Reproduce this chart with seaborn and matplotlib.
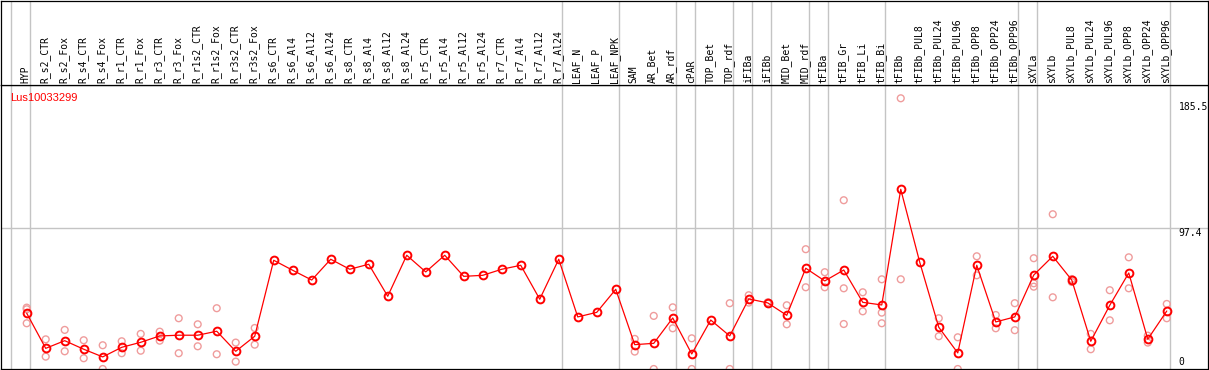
import matplotlib
matplotlib.use("Agg")
from matplotlib import pyplot as plt
import numpy as np
import pandas as pd
import seaborn as sb

# sample names in the order they appear along the x axis
samples = ["HYP", "R_s2_CTR", "R_s2_Fox", "R_s4_CTR", "R_s4_Fox", "R_r1_CTR", "R_r1_Fox",
           "R_r3_CTR", "R_r3_Fox", "R_r1s2_CTR", "R_r1s2_Fox", "R_r3s2_CTR", "R_r3s2_Fox",
           "R_s6_CTR", "R_s6_Al4", "R_s6_Al12", "R_s6_Al24", "R_s8_CTR", "R_s8_Al4",
           "R_s8_Al12", "R_s8_Al24", "R_r5_CTR", "R_r5_Al4", "R_r5_Al12", "R_r5_Al24",
           "R_r7_CTR", "R_r7_Al4", "R_r7_Al12", "R_r7_Al24", "LEAF_N", "LEAF_P", "LEAF_NPK",
           "SAM", "AR_Bet", "AR_rdf", "cPAR", "TOP_Bet", "TOP_rdf", "iFIBa", "iFIBb",
           "MID_Bet", "MID_rdf", "tFIBa", "tFIB_Gr", "tFIB_Li", "tFIB_Bi", "tFIBb",
           "tFIBb_PUL8", "tFIBb_PUL24", "tFIBb_PUL96", "tFIBb_OPP8", "tFIBb_OPP24",
           "tFIBb_OPP96", "sXYLa", "sXYLb", "sXYLb_PUL8", "sXYLb_PUL24", "sXYLb_PUL96",
           "sXYLb_OPP8", "sXYLb_OPP24", "sXYLb_OPP96"]

# mean expression per sample
means = [39.8, 16.0, 21.2, 15.4, 10.2, 16.7, 20.1, 24.4, 24.9, 24.9, 27.6, 14.0, 24.2,
         75.7, 68.9, 62.3, 76.4, 69.6, 73.0, 51.3, 79.1, 67.8, 79.1, 64.8, 65.5,
         69.6, 72.3, 49.3, 76.4, 37.3, 40.4, 56.0,
         18.5, 19.4, 36.6, 12.2, 35.2, 24.4, 49.5, 46.8, 38.4, 70.3,
         61.7, 69.1, 47.2, 45.4, 123.8, 74.3, 30.3, 12.9, 72.3, 33.9, 37.3,
         65.7, 78.4, 62.3, 20.8, 45.2, 67.1, 22.2, 41.3]

# replicate values per sample (empty where none are shown)
replicates = [[43.6, 42.5, 33.0], [22.1, 10.4], [28.5, 14.0], [21.5, 9.3], [18.1, 2.0],
              [20.8, 12.7], [25.8, 14.4], [27.3, 21.2], [36.4, 12.7], [32.3, 17.4],
              [43.2, 12.0], [19.9, 7.0], [29.8, 18.5],
              [], [], [], [], [], [], [], [], [], [], [], [], [], [], [], [], [], [], [],
              [22.4, 13.8], [38.0, 2.0], [43.8, 29.6], [22.8, 2.0], [], [46.6, 2.0],
              [52.0, 47.0], [47.2, 46.4], [45.2, 32.3], [83.2, 57.4],
              [67.6, 57.4], [116.4, 56.7, 32.5], [54.0, 41.1], [62.8, 40.2, 33.0],
              [185.5, 62.8], [], [36.4, 24.2], [23.5, 2.0], [78.4, 65.5], [38.6, 29.6],
              [46.6, 28.3], [77.1, 60.1, 57.8], [106.9, 50.6], [63.0, 61.0],
              [25.8, 15.4], [55.4, 35.0], [77.7, 56.7], [24.6, 19.9], [46.1, 36.4]]

# group separators sit just right of these sample indices
sep_after = [-1, 0, 28, 31, 34, 35, 37, 38, 39, 41, 42, 45, 52, 53, 60]

gene = "Lus10033299"
ref_line = 97.4
max_val = 185.5

sb.set_style("white")
mono = ["DejaVu Sans Mono"]

W, H = 1209, 370
fig = plt.figure(figsize=(W / 100, H / 100), dpi=100)
ax = fig.add_axes([1 / W, 1 / H, 1207 / W, 284 / H])
axh = fig.add_axes([1 / W, 285 / H, 1207 / W, 84.5 / H], sharex=ax)

x = np.arange(len(samples))
rx, ry = [], []
for i, reps in enumerate(replicates):
    for v in reps:
        rx.append(i)
        ry.append(v)
reps_df = pd.DataFrame({"x": rx, "y": ry})
mean_df = pd.DataFrame({"x": x, "y": means})

for s in sep_after:
    ax.axvline(s + 0.17, color="#c4c4c4", lw=1.0, zorder=0)
    axh.axvline(s + 0.17, color="#c4c4c4", lw=1.0, zorder=0)
ax.axhline(ref_line, color="#c4c4c4", lw=1.0, zorder=0)

sb.scatterplot(data=reps_df, x="x", y="y", ax=ax, marker="o", s=24,
               facecolors="none", edgecolor="#ef9c9c", linewidth=1.0, zorder=2)
sb.lineplot(data=mean_df, x="x", y="y", ax=ax, color="red", lw=0.9,
            marker="o", markersize=5.6, markerfacecolor="none",
            markeredgecolor="red", markeredgewidth=1.4, errorbar=None, zorder=3)

ax.set_xlim(-1.353, 62.17)
ax.set_ylim(2.0, 194.5)
ax.set_xlabel("")
ax.set_ylabel("")
ax.set_xticks([])
ax.set_yticks([])
axh.set_ylim(0, 1)
axh.set_yticks([])
axh.tick_params(labelbottom=False, bottom=False)
for a in (ax, axh):
    for sp in a.spines.values():
        sp.set_color("black")
        sp.set_linewidth(0.9)
        sp.set_visible(True)

for i, lab in enumerate(samples):
    axh.text(i - 0.05, 0.025, lab, rotation=90, ha="center", va="bottom",
             fontsize=7, family=mono, color="black")

ax.text(9 / 1207, 1 - 15.7 / 284, gene, transform=ax.transAxes, color="red",
        fontsize=8, family=["Liberation Sans", "DejaVu Sans"], ha="left", va="baseline")

for val, off in [(max_val, -9), (ref_line, -4.4), (0, 10.3)]:
    ax.annotate(("%g" % val), xy=(0.9755, val), xycoords=("axes fraction", "data"),
                xytext=(0, off), textcoords="offset pixels", ha="left", va="center",
                fontsize=7, family=mono, color="black", annotation_clip=False)

fig.savefig("out.png", dpi=100)
